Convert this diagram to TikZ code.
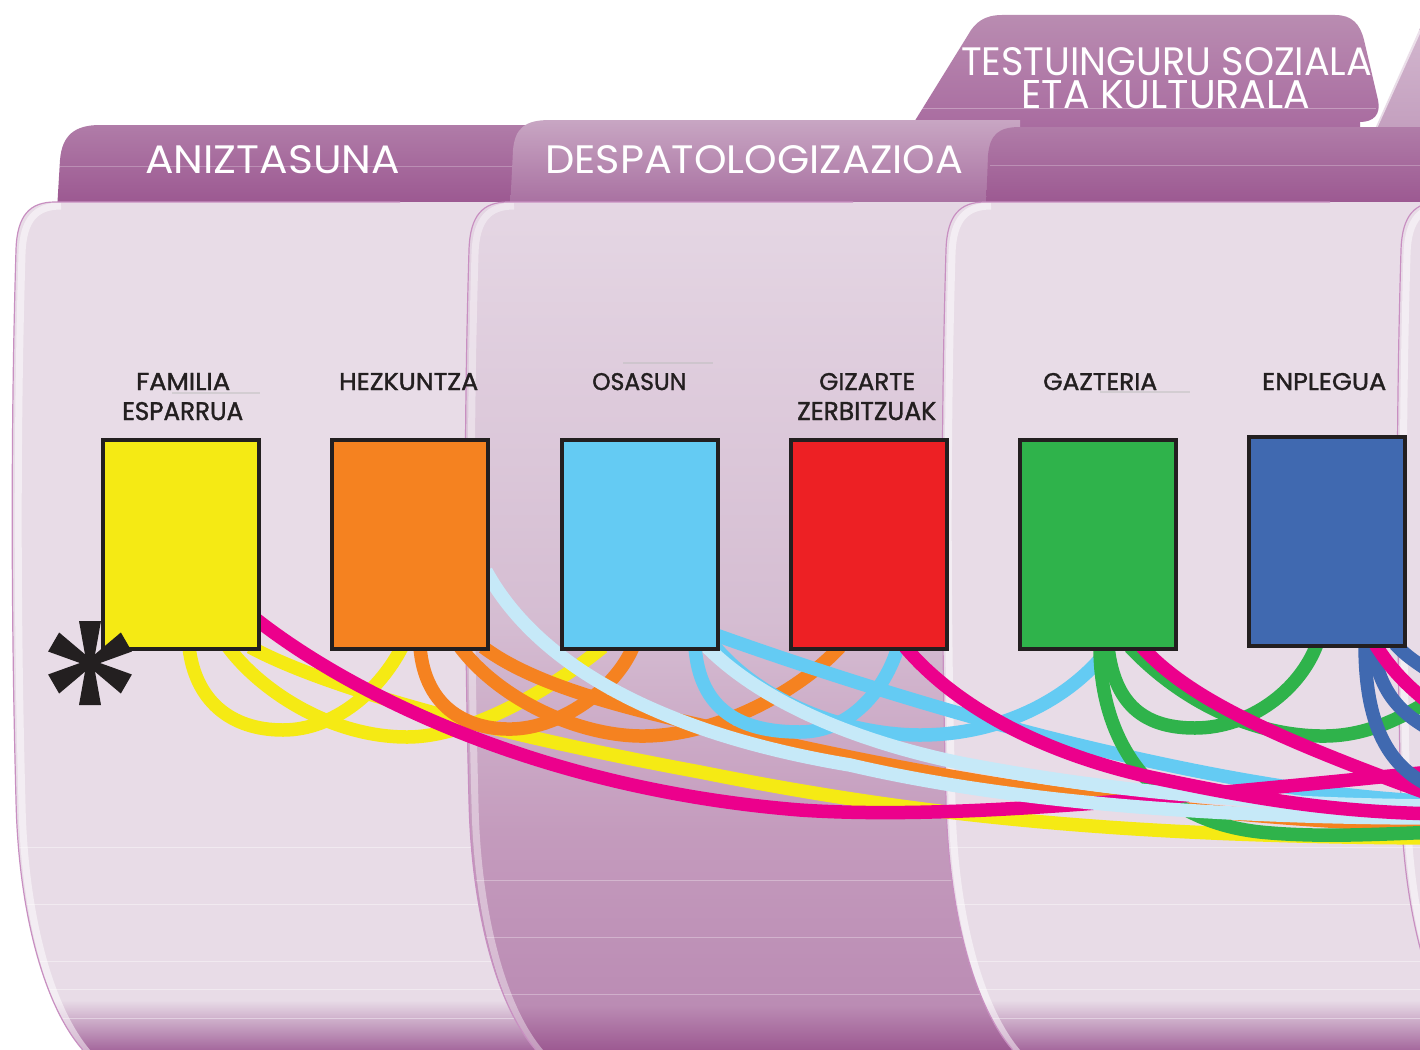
\documentclass[tikz,border=0pt]{standalone}
\usepackage{fontspec}
\usepackage{graphicx}
\setmainfont{Poppins}
\newfontfamily\labfont{Poppins}[FakeBold=1.5]
\usetikzlibrary{calc}
\definecolor{cYel}{HTML}{F5EA14}
\definecolor{cOra}{HTML}{F58220}
\definecolor{cCya}{HTML}{64CBF3}
\definecolor{cRed}{HTML}{ED2024}
\definecolor{cGre}{HTML}{2FB34B}
\definecolor{cBlu}{HTML}{4069B0}
\definecolor{cMag}{HTML}{EC008C}
\definecolor{cLbl}{HTML}{C6E9F8}
\definecolor{cInk}{HTML}{231F20}
\definecolor{bodyL}{HTML}{E8DCE7}
\definecolor{bodyBot}{HTML}{A2639A}
\definecolor{edgeC}{HTML}{C88FC1}
\definecolor{btwoA}{HTML}{E5D7E4}
\definecolor{btwoB}{HTML}{D5BDD2}
\definecolor{btwoC}{HTML}{C49BBD}
\definecolor{btwoD}{HTML}{BB8CB4}
\definecolor{btwoE}{HTML}{9B5790}
\definecolor{tabOneT}{HTML}{B07CA8}
\definecolor{tabOneM}{HTML}{A66C9E}
\definecolor{tabOneB}{HTML}{9A558F}
\definecolor{tabTwoT}{HTML}{C8A6C3}
\definecolor{tabTwoM}{HTML}{BC94B6}
\definecolor{tabBackT}{HTML}{B98CB1}
\definecolor{tabBackB}{HTML}{A7689E}
\definecolor{tabFarT}{HTML}{D2B6CE}
\definecolor{tabFarB}{HTML}{C29DBD}
\pgfdeclarelayer{bg}
\pgfdeclarelayer{conn}
\pgfsetlayers{bg,conn,main}
\def\bodyshape{(55,202) -- (660,202) -- (660,1060) -- (86,1060) -- (82,1049) .. controls (40,1000) and (18,900) .. (16,800) .. controls (12,650) and (10,450) .. (16,250) .. controls (17,215) and (30,202) .. (55,202) -- cycle}
\def\bodyedge{(86,1060) -- (82,1049) .. controls (40,1000) and (18,900) .. (16,800) .. controls (12,650) and (10,450) .. (16,250) .. controls (17,215) and (30,202) .. (55,202) -- (400,202)}
\def\bodyglow{(86,1060) -- (82,1049) .. controls (40,1000) and (18,900) .. (16,800) .. controls (12,650) and (10,450) .. (16,250) .. controls (17,215) and (30,202) .. (55,202)}
\newcommand\lightbody[1]{%
  \begin{scope}[xshift=#1]
    \begin{scope}
      \clip \bodyshape;
      \fill[bodyL] (0,190) rectangle (700,1060);
      \shade[top color=bodyL, bottom color=bodyBot] (0,1000) rectangle (700,1052);
      \foreach \yy in {847,904,961,989,1018}
        \draw[white, opacity=.4, line width=1] (0,\yy) -- (700,\yy);
      \draw[white, opacity=.5, line width=7, xshift=6, yshift=-4] \bodyglow;
    \end{scope}
    \draw[edgeC, line width=1.2] \bodyedge;
  \end{scope}}
\tikzset{
  catbox/.style={draw=cInk, line width=4pt, minimum width=156pt, minimum height=209pt, inner sep=0pt, outer sep=2pt},
  conn/.style={line width=13.5pt},
  tabtxt/.style={anchor=base west, inner sep=0pt, text=white},
  cattxt/.style={anchor=base west, inner sep=0pt, text=cInk, font=\labfont}
}
\begin{document}
\begin{tikzpicture}[x=1pt,y=-1pt]
\useasboundingbox (0,0) rectangle (1420,1049);
% ---------------- background: tabs and folder bodies
\begin{pgfonlayer}{bg}
\begin{scope}
\clip (0,0) rectangle (1420,1049);
\fill[white] (0,0) rectangle (1420,1049);
% back tab
\shade[top color=tabBackT, bottom color=tabBackB] (903,140) -- (968,35) .. controls (975,22) and (985,15) .. (1002,15) -- (1335,15) .. controls (1352,15) and (1360,24) .. (1364,40) -- (1378,100) .. controls (1381,114) and (1374,122) .. (1360,122) -- (1360,140) -- cycle;
\draw[white, opacity=.3, line width=1] (912,108) -- (1376,108);
% far right tab
\shade[top color=tabFarT, bottom color=tabFarB] (1370,140) -- (1420,28) -- (1430,28) -- (1430,140) -- cycle;
\draw[white, opacity=.6, line width=3] (1372,136) -- (1420,30);
% tab 1
\shade[top color=tabOneT, middle color=tabOneM, bottom color=tabOneB] (57,210) -- (60,160) .. controls (62,135) and (75,125) .. (100,125) -- (560,125) -- (560,210) -- cycle;
\draw[white, opacity=.25, line width=1] (60,166) -- (515,166);
% body 1
\lightbody{0}
% tab 2
\shade[top color=tabTwoT, middle color=tabTwoM, bottom color=tabOneM] (510,210) -- (513,150) .. controls (515,128) and (525,120) .. (550,120) -- (1020,120) -- (1020,210) -- cycle;
% body 2 (darker)
\begin{scope}[xshift=453]
  \begin{scope}
    \clip \bodyshape;
    \shade[top color=btwoA, bottom color=btwoB] (0,195) rectangle (700,621);
    \shade[top color=btwoB, bottom color=btwoC] (0,620) rectangle (700,831);
    \shade[top color=btwoC, bottom color=btwoD] (0,830) rectangle (700,1006);
    \shade[top color=btwoD, bottom color=btwoE] (0,1005) rectangle (700,1052);
    \foreach \yy in {880,937,994}
      \draw[white, opacity=.3, line width=1] (0,\yy) -- (700,\yy);
    \draw[white, opacity=.4, line width=7, xshift=6, yshift=-4] \bodyglow;
  \end{scope}
  \draw[edgeC, line width=1.2] \bodyedge;
\end{scope}
% tab 3
\shade[top color=tabOneT, middle color=tabOneM, bottom color=tabOneB] (986,210) -- (988,155) .. controls (990,135) and (998,127) .. (1020,127) -- (1430,127) -- (1430,210) -- cycle;
\draw[white, opacity=.25, line width=1] (990,165) -- (1420,165);
% body 3 and body 4
\lightbody{930}
\lightbody{1385}
% faint rules near labels
\draw[black!25, opacity=.5, line width=1.2] (172,393) -- (260,393);
\draw[black!25, opacity=.5, line width=1.2] (623,363) -- (713,363);
\draw[black!25, opacity=.5, line width=1.2] (1100,392) -- (1190,392);
\end{scope}
\end{pgfonlayer}
% ---------------- tab titles
\node[tabtxt] (tA) at (145,173) {\resizebox{255pt}{28pt}{ANIZTASUNA}};
\node[tabtxt] (tD) at (545,173) {\resizebox{418pt}{28pt}{DESPATOLOGIZAZIOA}};
\node[tabtxt] (tT) at (961,75) {\resizebox{411pt}{28pt}{TESTUINGURU SOZIALA}\llap{\raisebox{-33pt}[0pt][0pt]{\makebox[351pt][l]{\resizebox{289pt}{28pt}{ETA KULTURALA}}}}};
% ---------------- category labels
\node[cattxt] (lF) at (136,390) {\resizebox{94pt}{17pt}{FAMILIA}\llap{\raisebox{-30pt}[0pt][0pt]{\makebox[108pt][l]{\resizebox{121pt}{18pt}{ESPARRUA}}}}};
\node[cattxt] (lH) at (339,390) {\resizebox{139pt}{17pt}{HEZKUNTZA}};
\node[cattxt] (lO) at (592,390) {\resizebox{94pt}{17pt}{OSASUN}};
\node[cattxt] (lG) at (819,390) {\resizebox{96pt}{17pt}{GIZARTE}\llap{\raisebox{-30pt}[0pt][0pt]{\makebox[118pt][l]{\resizebox{139pt}{18pt}{ZERBITZUAK}}}}};
\node[cattxt] (lGz) at (1043,390) {\resizebox{114pt}{17pt}{GAZTERIA}};
\node[cattxt] (lE) at (1262,390) {\resizebox{124pt}{17pt}{ENPLEGUA}};
% ---------------- boxes
\node[catbox, fill=cYel] (yel) at (181,544.5) {};
\node[catbox, fill=cOra] (ora) at (410,544.5) {};
\node[catbox, fill=cCya] (cya) at (640,544.5) {};
\node[catbox, fill=cRed] (red) at (869,544.5) {};
\node[catbox, fill=cGre] (gre) at (1098,544.5) {};
\node[catbox, fill=cBlu] (blu) at (1327,541.5) {};
% free ends beyond the right edge
\coordinate (eY3) at (1440,838);
\coordinate (eM1) at (1440,771);
\coordinate (eO3) at (1440,827);
\coordinate (eL1) at (1440,818);
\coordinate (eL2) at (1440,806);
\coordinate (eC2) at (1440,802);
\coordinate (eM2) at (1440,814);
\coordinate (eG1) at (1440,832);
\coordinate (eG3) at (1440,695);
\coordinate (eM3) at (1440,798);
\coordinate (eM4) at (1440,712);
\coordinate (eB1) at (1440,790);
\coordinate (eB2) at (1440,735);
\coordinate (eB3) at (1440,678);
% ---------------- connectors
\begin{pgfonlayer}{conn}
\begin{scope}
\clip (0,0) rectangle (1420,1049);
\draw[conn, cYel] ([xshift=88pt,yshift=4pt]yel.south west) .. controls (195,700) and (230,730) .. (283,730) .. controls (335,730) and (380,690) .. ([xshift=72pt,yshift=4pt]ora.south west);
\draw[conn, cYel] ([xshift=127pt,yshift=4pt]yel.south west) .. controls (260,690) and (330,737) .. (407,737) .. controls (470,737) and (550,690) .. ([xshift=43pt,yshift=4pt]cya.south west);
\draw[conn, cYel] ([xshift=149pt,yshift=4pt]yel.south west) .. controls (330,690) and (500,735) .. (700,772) .. controls (900,812) and (1100,837) .. (eY3);
\draw[conn, cOra] ([xshift=90pt,yshift=4pt]ora.south west) .. controls (425,710) and (470,730) .. (512,729) .. controls (560,728) and (615,690) .. ([xshift=73pt,yshift=4pt]cya.south west);
\draw[conn, cOra] ([xshift=130pt,yshift=4pt]ora.south west) .. controls (500,700) and (580,737) .. (645,736) .. controls (720,735) and (800,690) .. ([xshift=51pt,yshift=4pt]red.south west);
\draw[conn, cOra] ([xshift=153pt,yshift=4pt]ora.south west) .. controls (540,690) and (650,715) .. (770,740) .. controls (950,780) and (1150,815) .. (eO3);
\draw[conn, cCya] ([xshift=135pt,yshift=4pt]cya.south west) .. controls (700,710) and (740,732) .. (800,732) .. controls (850,732) and (885,690) .. ([xshift=109pt,yshift=4pt]red.south west);
\draw[conn, cCya] ([xshift=-4pt,yshift=3pt]cya.south east) .. controls (765,705) and (850,735) .. (920,735) .. controls (1000,735) and (1070,700) .. ([xshift=92pt,yshift=4pt]gre.south west);
\draw[conn, cCya] ([xshift=-4pt,yshift=16pt]cya.south east) .. controls (800,665) and (950,715) .. (1100,750) .. controls (1230,780) and (1330,797) .. (eC2);
\draw[conn, cGre] ([xshift=82pt,yshift=4pt]gre.south west) .. controls (1100,740) and (1150,820) .. (1260,832) .. controls (1320,838) and (1380,834) .. (eG1);
\draw[conn, cGre] ([xshift=90pt,yshift=4pt]gre.south west) .. controls (1115,710) and (1150,728) .. (1195,728) .. controls (1250,728) and (1300,690) .. ([xshift=70pt,yshift=4pt]blu.south west);
\draw[conn, cGre] ([xshift=112pt,yshift=4pt]gre.south west) .. controls (1180,700) and (1250,735) .. (1320,736) .. controls (1370,737) and (1405,715) .. (eG3);
\draw[conn, cMag] ([xshift=-4pt,yshift=31pt]yel.south east) .. controls (360,700) and (550,790) .. (800,810) .. controls (950,820) and (1150,800) .. (eM1);
\draw[conn, cLbl] ([xshift=-4pt,yshift=80pt]ora.south east) .. controls (540,670) and (670,735) .. (850,765) .. controls (1000,800) and (1200,818) .. (eL1);
\draw[conn, cLbl] ([xshift=147pt,yshift=4pt]cya.south west) .. controls (760,700) and (850,740) .. (960,763) .. controls (1100,790) and (1250,805) .. (eL2);
\draw[conn, cMag] ([xshift=116pt,yshift=4pt]red.south west) .. controls (950,700) and (1030,750) .. (1150,777) .. controls (1250,798) and (1330,812) .. (eM2);
\draw[conn, cMag] ([xshift=124pt,yshift=4pt]gre.south west) .. controls (1190,700) and (1280,740) .. (eM3);
\draw[conn, cBlu] ([xshift=118pt,yshift=4pt]blu.south west) .. controls (1365,720) and (1385,770) .. (eB1);
\draw[conn, cBlu] ([xshift=125pt,yshift=4pt]blu.south west) .. controls (1380,690) and (1395,712) .. (eB2);
\draw[conn, cBlu] ([xshift=148pt,yshift=4pt]blu.south west) .. controls (1405,655) and (1415,662) .. (eB3);
\draw[conn, cMag] ([xshift=128pt,yshift=4pt]blu.south west) .. controls (1390,668) and (1405,685) .. (eM4);
\end{scope}
\end{pgfonlayer}
% ---------------- asterisk (over the yellow box)
\begin{scope}[shift={(90,663)}]
  \foreach \a in {30,90,150,210,270,330}
    \fill[cInk, rotate=\a] (3,-4) -- (42,-11) -- (42,11) -- (3,4) -- cycle;
  \fill[cInk] (0,0) circle (8);
\end{scope}
\end{tikzpicture}
\end{document}
